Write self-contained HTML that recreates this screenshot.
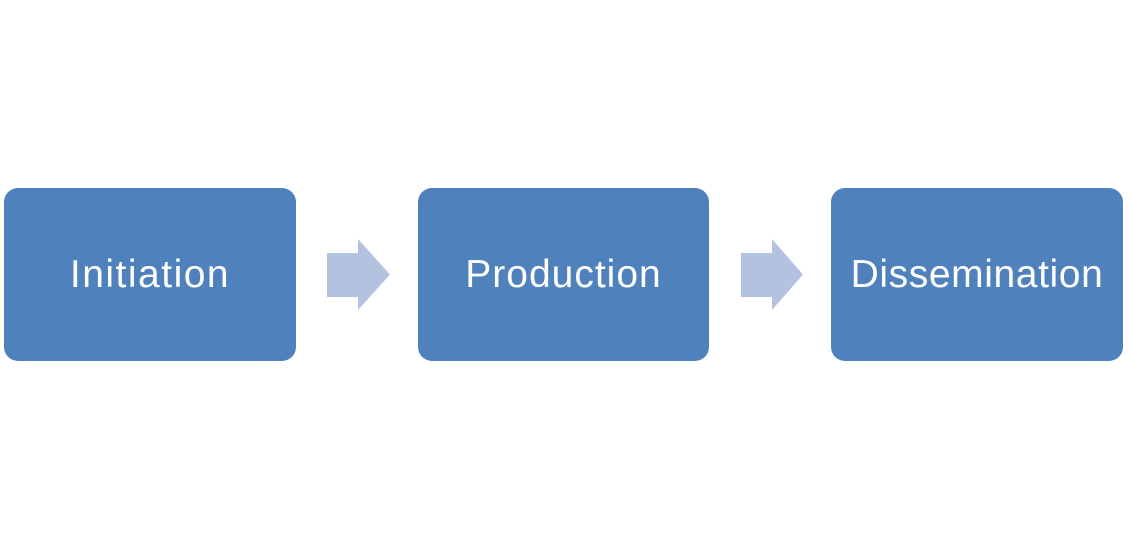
<!DOCTYPE html>
<html><head><meta charset="utf-8"><style>
html,body{margin:0;padding:0;background:#fff;width:1131px;height:550px;overflow:hidden;position:relative}
.b{position:absolute;top:188px;height:173px;background:#4f81bd;border-radius:14px;color:#fff;font-family:"Liberation Sans",sans-serif;font-size:39px;display:flex;align-items:center;justify-content:center;letter-spacing:1.5px}
</style></head><body>
<div class="b" style="left:4px;width:292px">Initiation</div>
<div class="b" style="left:418px;width:291px;letter-spacing:1px">Production</div>
<div class="b" style="left:831px;width:292px;letter-spacing:0.6px">Dissemination</div>
<svg width="1131" height="550" style="position:absolute;left:0;top:0">
<polygon points="327,253 358,253 358,239 390,274.5 358,310 358,297 327,297" fill="#b3c2de"/>
<polygon points="741,253 772,253 772,239 803,274.5 772,310 772,297 741,297" fill="#b3c2de"/>
</svg>
</body></html>
